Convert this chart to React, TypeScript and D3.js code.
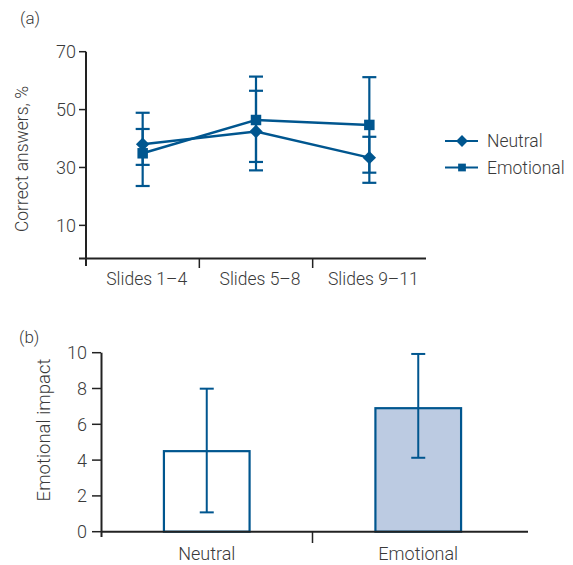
import { useEffect, useRef } from "react";
import * as d3 from "d3";

const slides = ["Slides 1–4", "Slides 5–8", "Slides 9–11"];
const neutralMean = [38.0, 42.4, 33.4];
const neutralLow = [30.9, 29.0, 24.7];
const neutralHigh = [43.3, 56.5, 40.6];
const emotionalMean = [34.9, 46.4, 44.7];
const emotionalLow = [23.6, 31.9, 28.2];
const emotionalHigh = [48.9, 61.4, 61.2];
const ticksA = [10, 30, 50, 70];

const groups = ["Neutral", "Emotional"];
const impactMean = [4.5, 6.9];
const impactLow = [1.08, 4.13];
const impactHigh = [7.99, 9.93];
const ticksB = [0, 2, 4, 6, 8, 10];

const BLUE = "#00568f";
const FILL = ["#ffffff", "#bccbe2"];
const TEXT = "#3a3a3a";
const AXIS = "#222";
const FONT = "Roboto, 'Open Sans', sans-serif";

export default function App() {
  const ref = useRef<SVGSVGElement>(null);

  useEffect(() => {
    const svg = d3.select(ref.current);
    svg.selectAll("*").remove();
    svg.style("font-family", FONT).style("font-weight", 300);

    // ---------- panel (a) ----------
    const x = d3.scaleBand().domain(slides).range([86, 426]);
    const y = d3.scaleLinear().domain([0, 70]).range([254.3, 51.7]);
    const a = svg.append("g");

    a.append("text").attr("x", 20).attr("y", 24).text("(a)")
      .attr("fill", TEXT).style("font-size", "17px");

    // axes
    a.append("line").attr("x1", 79).attr("x2", 426).attr("y1", 258.5).attr("y2", 258.5)
      .attr("stroke", AXIS).attr("stroke-width", 2);
    a.append("line").attr("x1", 86).attr("x2", 86).attr("y1", y(70)).attr("y2", 266)
      .attr("stroke", AXIS).attr("stroke-width", 2);
    slides.slice(1).forEach((s) => {
      a.append("line").attr("x1", x(s)!).attr("x2", x(s)!).attr("y1", 258.5).attr("y2", 268)
        .attr("stroke", AXIS).attr("stroke-width", 1.5);
    });
    ticksA.forEach((t) => {
      a.append("line").attr("x1", 79).attr("x2", 86).attr("y1", y(t)).attr("y2", y(t))
        .attr("stroke", AXIS).attr("stroke-width", 1.5);
      a.append("text").attr("x", 76).attr("y", y(t)).attr("dy", "0.36em")
        .attr("text-anchor", "end").attr("fill", TEXT).style("font-size", "18px").text(t);
    });
    slides.forEach((s) => {
      a.append("text").attr("x", x(s)! + x.bandwidth() / 2 + 4).attr("y", 285)
        .attr("text-anchor", "middle").attr("fill", TEXT).style("font-size", "17.5px").text(s);
    });
    a.append("text").attr("transform", "translate(28,159) rotate(-90)")
      .attr("text-anchor", "middle").attr("fill", TEXT).style("font-size", "17.5px")
      .text("Correct answers, %");

    const cx = (i: number) => x(slides[i])! + x.bandwidth() / 2;
    const series = [
      { mean: neutralMean, lo: neutralLow, hi: neutralHigh, size: 90, rot: 45 },
      { mean: emotionalMean, lo: emotionalLow, hi: emotionalHigh, size: 110, rot: 0 },
    ];

    series.forEach((s) => {
      s.mean.forEach((_, i) => {
        a.append("line").attr("x1", cx(i)).attr("x2", cx(i)).attr("y1", y(s.hi[i])).attr("y2", y(s.lo[i]))
          .attr("stroke", BLUE).attr("stroke-width", 2.2);
        [s.hi[i], s.lo[i]].forEach((v) => {
          a.append("line").attr("x1", cx(i) - 7).attr("x2", cx(i) + 7).attr("y1", y(v)).attr("y2", y(v))
            .attr("stroke", BLUE).attr("stroke-width", 2.2);
        });
      });
    });

    const line = d3.line<number>().x((_, i) => cx(i)).y((d) => y(d));
    series.forEach((s) => {
      a.append("path").attr("d", line(s.mean)!).attr("fill", "none")
        .attr("stroke", BLUE).attr("stroke-width", 2.5);
    });
    series.forEach((s) => {
      s.mean.forEach((v, i) => {
        a.append("path").attr("d", d3.symbol(d3.symbolSquare, s.size)()!)
          .attr("transform", `translate(${cx(i)},${y(v)}) rotate(${s.rot})`)
          .attr("fill", BLUE);
      });
    });

    // legend
    const names = ["Neutral", "Emotional"];
    series.forEach((s, k) => {
      const ly = 141 + k * 26.5;
      a.append("line").attr("x1", 445).attr("x2", 478).attr("y1", ly).attr("y2", ly)
        .attr("stroke", BLUE).attr("stroke-width", 2.2);
      a.append("path").attr("d", d3.symbol(d3.symbolSquare, k === 0 ? 70 : 60)()!)
        .attr("transform", `translate(462,${ly}) rotate(${s.rot})`).attr("fill", BLUE);
      a.append("text").attr("x", 487).attr("y", ly).attr("dy", "0.36em")
        .attr("fill", TEXT).style("font-size", "17.5px").text(names[k]);
    });

    // ---------- panel (b) ----------
    const xb = d3.scaleBand().domain(groups).range([101, 524]);
    const yb = d3.scaleLinear().domain([0, 10]).range([531.7, 352.7]);
    const b = svg.append("g");

    b.append("text").attr("x", 19).attr("y", 343).text("(b)")
      .attr("fill", TEXT).style("font-size", "17px");

    const bw = xb.bandwidth() * 0.405;
    groups.forEach((g, i) => {
      const c = xb(g)! + xb.bandwidth() / 2;
      b.append("rect").attr("x", c - bw / 2).attr("y", yb(impactMean[i]))
        .attr("width", bw).attr("height", yb(0) - yb(impactMean[i]))
        .attr("fill", FILL[i]).attr("stroke", BLUE).attr("stroke-width", 2.2);
      b.append("line").attr("x1", c).attr("x2", c).attr("y1", yb(impactHigh[i])).attr("y2", yb(impactLow[i]))
        .attr("stroke", BLUE).attr("stroke-width", 2);
      [impactHigh[i], impactLow[i]].forEach((v) => {
        b.append("line").attr("x1", c - 7).attr("x2", c + 7).attr("y1", yb(v)).attr("y2", yb(v))
          .attr("stroke", BLUE).attr("stroke-width", 2);
      });
      b.append("text").attr("x", c).attr("y", 560).attr("text-anchor", "middle")
        .attr("fill", TEXT).style("font-size", "18px").text(g);
    });

    b.append("line").attr("x1", 101).attr("x2", 528).attr("y1", yb(0)).attr("y2", yb(0))
      .attr("stroke", AXIS).attr("stroke-width", 2);
    b.append("line").attr("x1", 101.5).attr("x2", 101.5).attr("y1", yb(10)).attr("y2", 537)
      .attr("stroke", AXIS).attr("stroke-width", 2);
    b.append("line").attr("x1", xb(groups[1])!).attr("x2", xb(groups[1])!).attr("y1", yb(0)).attr("y2", 543)
      .attr("stroke", AXIS).attr("stroke-width", 1.5);
    ticksB.forEach((t) => {
      b.append("line").attr("x1", 92).attr("x2", 101).attr("y1", yb(t)).attr("y2", yb(t))
        .attr("stroke", AXIS).attr("stroke-width", 1.5);
      b.append("text").attr("x", 87).attr("y", yb(t)).attr("dy", "0.36em")
        .attr("text-anchor", "end").attr("fill", TEXT).style("font-size", "18px").text(t);
    });
    b.append("text").attr("transform", "translate(50,430) rotate(-90)")
      .attr("text-anchor", "middle").attr("fill", TEXT).style("font-size", "18.5px")
      .text("Emotional impact");
  }, []);

  return (
    <svg ref={ref} width={573} height={565} style={{ position: "absolute", left: 0, top: 0, background: "#fff" }} />
  );
}
